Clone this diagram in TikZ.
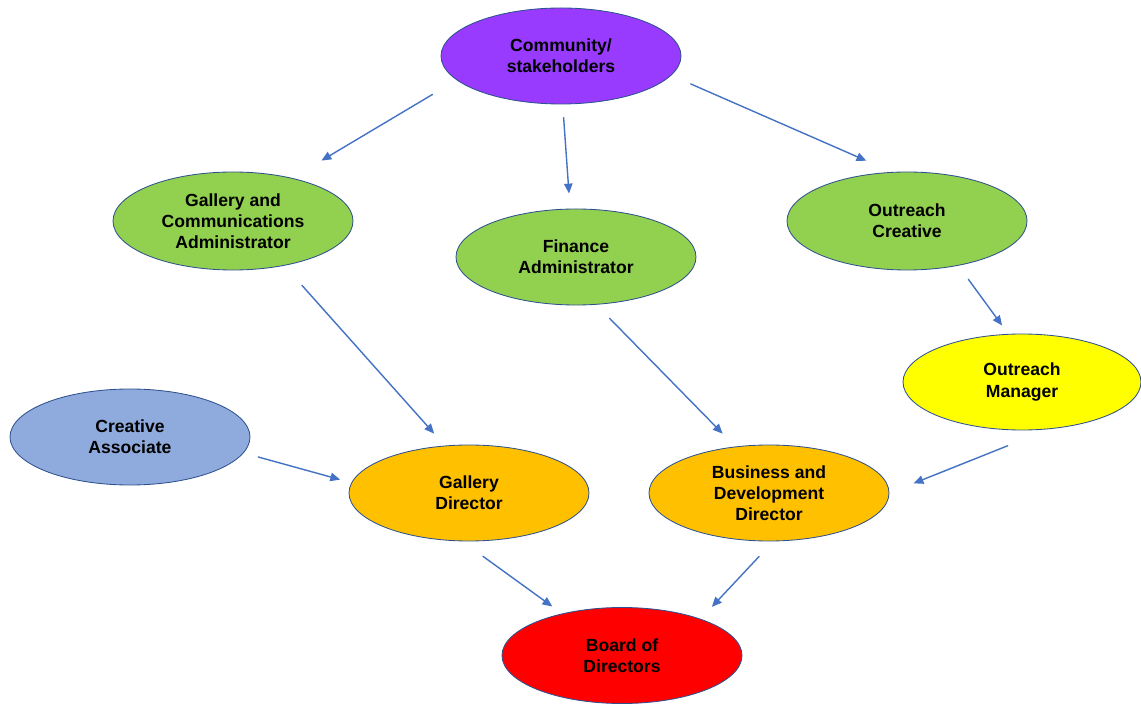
\documentclass[tikz,border=0pt]{standalone}
\usepackage{fontspec}
\setmainfont{Liberation Sans}
\usepackage{xcolor}
\usepackage{tikz}
\usetikzlibrary{arrows.meta,shapes.geometric}
\definecolor{rolepurple}{RGB}{153,58,255}
\definecolor{rolegreen}{RGB}{146,208,80}
\definecolor{roleyellow}{RGB}{255,255,0}
\definecolor{roleblue}{RGB}{143,170,220}
\definecolor{roleorange}{RGB}{255,192,0}
\definecolor{rolered}{RGB}{255,0,0}
\definecolor{rimblue}{RGB}{47,82,143}
\definecolor{linkblue}{RGB}{68,114,196}

\begin{document}
\begin{tikzpicture}[line cap=round,line join=round,>={Triangle[length=7pt,width=6pt]},x=1.0cm,y=1.0cm,
  role/.style={ellipse,draw=rimblue,line width=0.6pt,minimum width=6cm,minimum height=2.4cm,inner sep=0pt,align=center,font=\fontsize{12.5}{15}\selectfont\bfseries},
  link/.style={->,draw=linkblue,line width=1pt}]
\useasboundingbox (0,0) rectangle (28.525,17.575);
% roles
\node[role,fill=rolepurple] (comm) at (14.025,16.175) {Community/\\stakeholders};
\node[role,fill=rolegreen,minimum height=2.45cm] (gca) at (5.825,12.05) {Gallery and\\Communications\\Administrator};
\node[role,fill=rolegreen] (fin) at (14.4,11.15) {Finance\\Administrator};
\node[role,fill=rolegreen,minimum height=2.45cm] (oc) at (22.675,12.05) {Outreach\\Creative};
\node[role,fill=roleyellow,minimum width=5.95cm] (om) at (25.55,8.025) {Outreach\\Manager};
\node[role,fill=roleblue] (ca) at (3.25,6.65) {Creative\\Associate};
\node[role,fill=roleorange] (gd) at (11.725,5.25) {Gallery\\Director};
\node[role,fill=roleorange] (bdd) at (19.225,5.25) {Business and\\Development\\Director};
\node[role,fill=rolered] (board) at (15.55,1.1875) {Board of\\Directors};
% links
\draw[link,shorten <=0.7cm,shorten >=0.85cm] (comm.193.9) -- (gca.36.9);
\draw[link,shorten <=0.33cm,shorten >=0.38cm] (comm.272.6) -- (fin.97.1);
\draw[link,shorten <=0.53cm,shorten >=0.7cm] (comm.350.6) -- (oc.107.5);
\draw[link,shorten <=0.66cm,shorten >=0.4cm] (gca.319.3) -- (gd.117.4);
\draw[link,shorten <=0.48cm,shorten >=0.45cm] (fin.293.6) -- (bdd.126);
\draw[link,shorten <=0.42cm,shorten >=0.26cm] (oc.319) -- (om.106.4);
\draw[link,shorten <=0.38cm,shorten >=0.29cm] (ca.352.1) -- (gd.175.7);
\draw[link,shorten <=1.12cm,shorten >=0.65cm] (om.300.8) -- (bdd.0.8);
\draw[link,shorten <=0.64cm,shorten >=0.3cm] (gd.262) -- (board.145.5);
\draw[link,shorten <=0.52cm,shorten >=0.41cm] (bdd.275.4) -- (board.25.6);
\end{tikzpicture}
\end{document}
